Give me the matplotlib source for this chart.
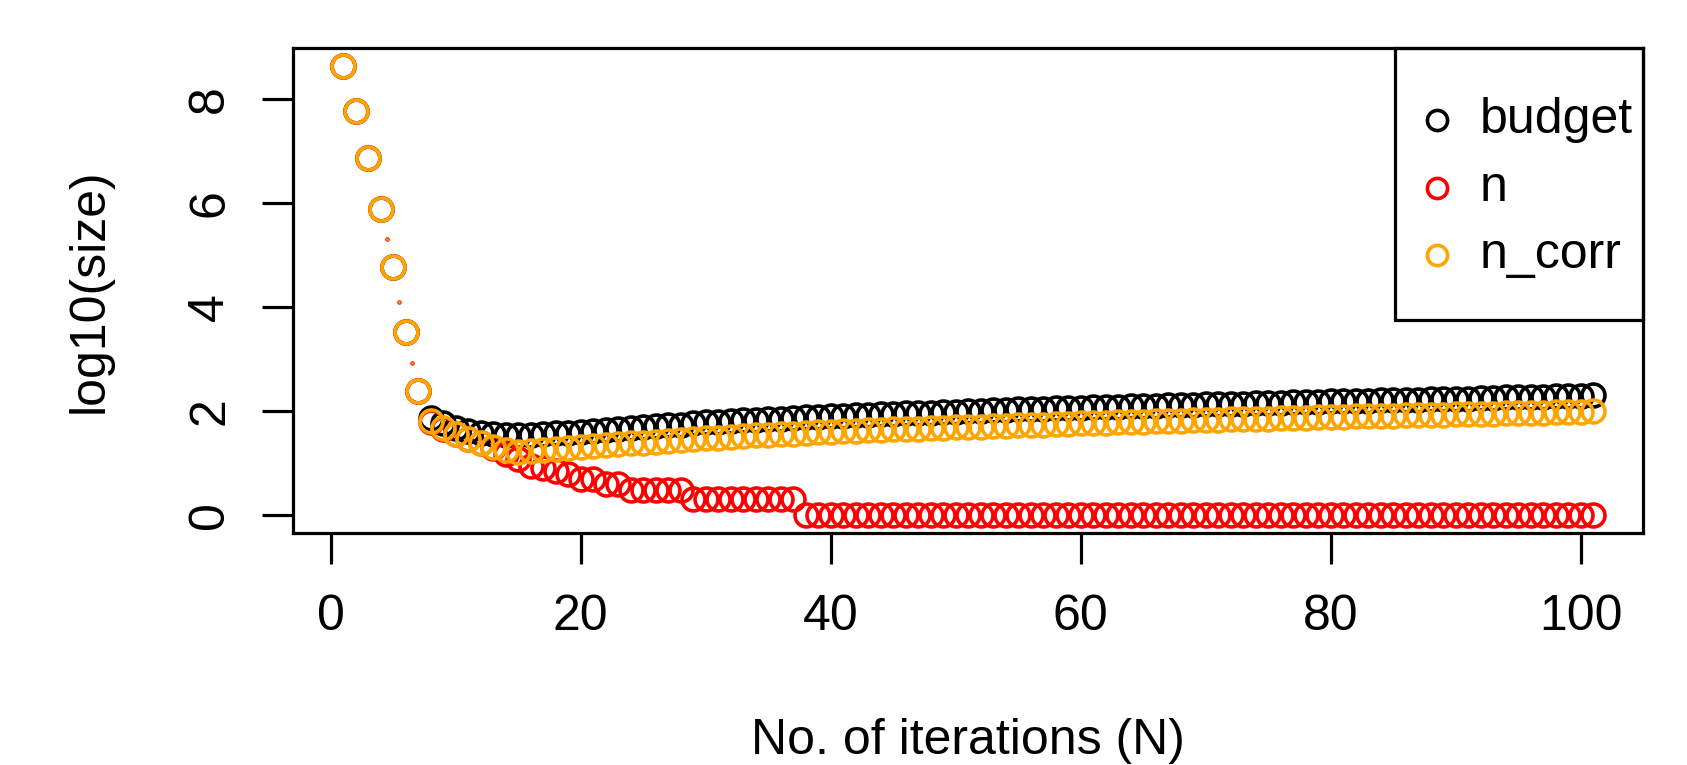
import matplotlib
matplotlib.use("Agg")
import matplotlib.pyplot as plt
from matplotlib.patches import Rectangle

plt.rcParams['font.family'] = 'Liberation Sans'

# iteration index
iters = list(range(1, 102))

# log10 sizes
budget = [8.63, 7.77, 6.87, 5.88, 4.76, 3.52, 2.39,
          1.86, 1.76, 1.68, 1.62, 1.58, 1.55, 1.54,
          1.53, 1.54, 1.55, 1.57, 1.58, 1.60,
          1.62, 1.64, 1.66, 1.68, 1.69, 1.71, 1.73, 1.74, 1.76, 1.78,
          1.79, 1.80, 1.82, 1.83, 1.84, 1.85, 1.86, 1.88, 1.89, 1.90,
          1.91, 1.92, 1.93, 1.94, 1.95, 1.96, 1.96, 1.97, 1.98, 1.99,
          2.00, 2.00, 2.01, 2.02, 2.03, 2.03, 2.04, 2.05, 2.05, 2.06,
          2.07, 2.07, 2.08, 2.09, 2.09, 2.10, 2.11, 2.11, 2.12, 2.13,
          2.13, 2.14, 2.14, 2.15, 2.15, 2.16, 2.17, 2.17, 2.18, 2.19,
          2.19, 2.20, 2.20, 2.21, 2.21, 2.22, 2.22, 2.23, 2.23, 2.24,
          2.24, 2.25, 2.25, 2.26, 2.26, 2.27, 2.27, 2.28, 2.28, 2.29, 2.30]

n = [8.63, 7.77, 6.87, 5.88, 4.76, 3.52, 2.39,
     1.78, 1.65, 1.55, 1.46, 1.38, 1.28, 1.18,
     1.08, 0.95, 0.90, 0.85, 0.78, 0.70,
     0.70, 0.60, 0.60, 0.48, 0.48, 0.48, 0.48, 0.48,
     0.30, 0.30, 0.30, 0.30, 0.30, 0.30, 0.30, 0.30, 0.30] + [0.0] * 64

n_corr = [8.63, 7.77, 6.87, 5.88, 4.76, 3.52, 2.39,
          1.80, 1.68, 1.56, 1.47, 1.39, 1.31, 1.25,
          1.22, 1.23, 1.25, 1.27, 1.28, 1.30,
          1.32, 1.34, 1.36, 1.38, 1.39, 1.41, 1.43, 1.44, 1.46, 1.48,
          1.49, 1.50, 1.52, 1.53, 1.54, 1.55, 1.56, 1.58, 1.59, 1.60,
          1.61, 1.62, 1.63, 1.64, 1.65, 1.66, 1.66, 1.67, 1.68, 1.69,
          1.70, 1.70, 1.71, 1.72, 1.73, 1.73, 1.74, 1.75, 1.75, 1.76,
          1.77, 1.77, 1.78, 1.79, 1.79, 1.80, 1.81, 1.81, 1.82, 1.83,
          1.83, 1.84, 1.84, 1.85, 1.85, 1.86, 1.87, 1.87, 1.88, 1.89,
          1.89, 1.90, 1.90, 1.91, 1.91, 1.92, 1.92, 1.93, 1.93, 1.94,
          1.94, 1.95, 1.95, 1.96, 1.96, 1.97, 1.97, 1.98, 1.98, 1.99, 2.00]

# the tiny stray dots between the first few points
stray_x = [4.5, 5.5, 6.5]
stray_y = [5.30, 4.10, 2.93]

labels = ['budget', 'n', 'n_corr']
colors = ['black', 'red', 'orange']

fig = plt.figure(figsize=(16.87, 7.65), dpi=100)
ax = fig.add_axes([293 / 1687, 1 - 533 / 765, 1350 / 1687, 485 / 765])

for vals, col in zip([budget, n, n_corr], colors):
    ax.plot(iters, vals, 'o', ls='none', mfc='none', mec=col, ms=16.5, mew=2.6)
ax.plot(stray_x, stray_y, 'o', ls='none', ms=2.6, color='orange', mec='red', mew=0.6)

ax.set_xlim(-3, 105)
ax.set_ylim(-0.345, 8.977)
ax.set_xticks([0, 20, 40, 60, 80, 100])
ax.set_yticks([0, 2, 4, 6, 8])
ax.tick_params(length=22, width=2.3, labelsize=36, color='black')
ax.tick_params(axis='x', pad=22)
ax.tick_params(axis='y', pad=21)
plt.setp(ax.get_yticklabels(), rotation=90, va='center')
for s in ax.spines.values():
    s.set_linewidth(2.3)

ax.set_xlabel('No. of iterations (N)', fontsize=36, va='center')
ax.xaxis.set_label_coords(0.5, (533 - 741) / 485)
ax.set_ylabel('log10(size)', fontsize=36, va='center')
ax.yaxis.set_label_coords((90 - 293) / 1350, 0.5)

# legend box, drawn by hand like R's legend()
box_l = (1395 - 293) / 1350
box_b = (533 - 320) / 485
ax.add_patch(Rectangle((box_l, box_b), 1 - box_l, 1 - box_b, transform=ax.transAxes,
                       fill=False, ec='black', lw=2.3, clip_on=False, zorder=5))
row_y = [(533 - 120) / 485, (533 - 188) / 485, (533 - 255) / 485]
mark_x = (1437 - 293) / 1350
text_x = (1480 - 293) / 1350
for lab, col, yy in zip(labels, colors, row_y):
    ax.plot([mark_x], [yy], 'o', transform=ax.transAxes, mfc='none', mec=col,
            ms=14.5, mew=2.6, clip_on=False, zorder=6)
    ax.text(text_x, yy, lab, transform=ax.transAxes, fontsize=36, va='center', ha='left')

fig.savefig('out.png', dpi=100)
